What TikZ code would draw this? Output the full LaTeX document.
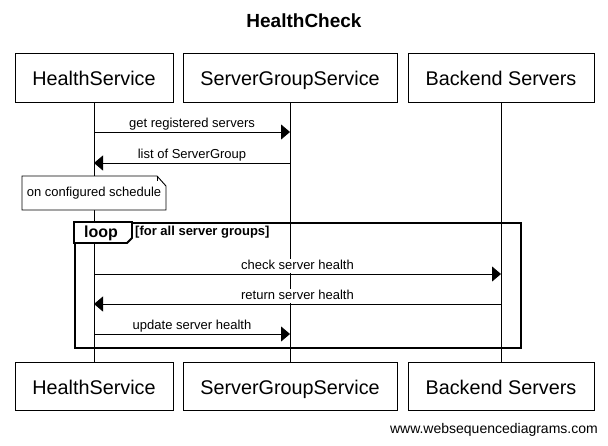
\documentclass[tikz,border=0pt]{standalone}
\usepackage{fontspec}
\setmainfont{Liberation Sans}
\usetikzlibrary{arrows.meta, calc}
\tikzset{actor/.style = {draw, line width=0.9pt, fill=white, minimum height=49pt, inner sep=0pt, text height=20pt, text depth=4pt, font=\fontsize{19.8}{22}\selectfont}}
\tikzset{msg/.style = {line width=0.9pt, -{Triangle[length=9pt, width=15pt]}}}
\tikzset{lbl/.style = {fill=white, inner sep=1pt, text depth=2.8pt, font=\fontsize{13}{15}\selectfont}}

\begin{document}
\begin{tikzpicture}[x=1pt, y=-1pt]
\useasboundingbox (0,0) rectangle (608,445);
\node[font=\bfseries\fontsize{19}{22}\selectfont] (title) at (304,21) {HealthCheck};
\foreach \n/\x/\w/\t in {hs/94/158/HealthService, sgs/290/214/ServerGroupService, bs/501/186/Backend Servers}{
  \node[actor, minimum width=\w] (top\n) at (\x,77.5) {\t};
  \node[actor, minimum width=\w, minimum height=48] (bot\n) at (\x,386) {\t};
  \draw[line width=0.9pt] (top\n) -- (bot\n);
}
\draw[line width=0.9pt, fill=white] (22,176) -- (157,176) -- (166,186) -- (166,210) -- (22,210) -- cycle;
\draw[line width=0.9pt] (157,176) -- (157,181);
\node[font=\fontsize{13}{15}\selectfont] (note) at (94,193) {on configured schedule};
\node[draw, line width=1.8pt, minimum width=446, minimum height=125, inner sep=0pt, anchor=north west] (frame) at (74,222) {};
\draw[line width=1.8pt, fill=white] (frame.north west) -- ++(58,0) -- ++(0,16) -- ++(-5,5) -- ++(-53,0) -- cycle;
\node[font=\bfseries\fontsize{16}{18}\selectfont] (looptag) at (101,233) {loop};
\node[anchor=west, inner sep=0pt, font=\bfseries\fontsize{13}{15}\selectfont] (guard) at (135,232) {[for all server groups]};
\foreach \y/\a/\b/\t in {132/hs/sgs/get registered servers, 163/sgs/hs/list of ServerGroup, 274/hs/bs/check server health, 304/bs/hs/return server health, 334/hs/sgs/update server health}
  \draw[msg] (top\a |- 0,\y) -- node[lbl, above=0.5pt] {\t} (top\b |- 0,\y);
\node[anchor=east, inner sep=0pt, font=\fontsize{14}{16}\selectfont] (wsd) at (598,430) {www.websequencediagrams.com};
\end{tikzpicture}
\end{document}
